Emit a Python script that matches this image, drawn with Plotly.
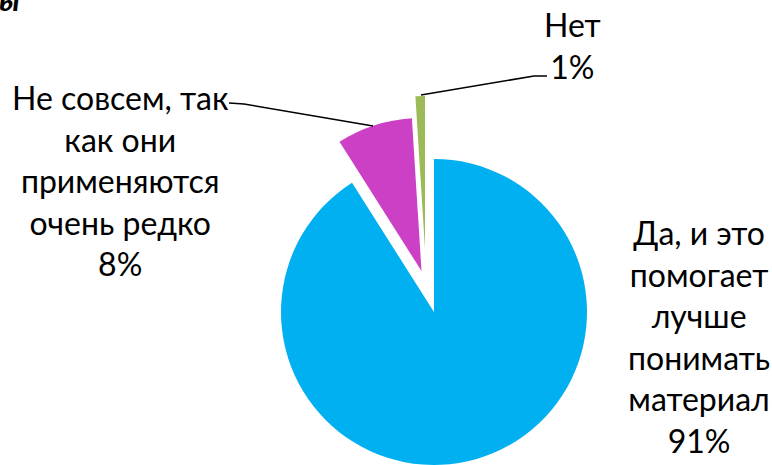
import plotly.graph_objects as go

# ---- data ----
categories = ["Да, и это помогает лучше понимать материал",
              "Не совсем, так как они применяются очень редко",
              "Нет"]
label_lines = ["Да, и это<br>помогает<br>лучше<br>понимать<br>материал",
               "Не совсем, так<br>как они<br>применяются<br>очень редко",
               "Нет"]
values = [91, 8, 1]
colors = ["#00B0F0", "#CC40C6", "#9BBB59"]

W, H = 772, 465

def px(x):
    return x / W

def py(y):
    return 1 - y / H

# pie geometry (pixels): radius and apex for each (exploded) slice
R = 153
apex = [(434, 312), (421.5, 271), (425, 249)]

fig = go.Figure()
for i, (cx, cy) in enumerate(apex):
    cols = ["rgba(0,0,0,0)"] * len(values)
    cols[i] = colors[i]
    fig.add_trace(go.Pie(
        labels=categories, values=values, sort=False, direction="clockwise",
        rotation=0, textinfo="none", hoverinfo="label+percent",
        marker=dict(colors=cols, line=dict(width=0)),
        domain=dict(x=[px(cx - R), px(cx + R)], y=[py(cy + R), py(cy - R)]),
        showlegend=False,
    ))

font = dict(family="Lato, Carlito, Calibri, sans-serif", size=32, color="#000000")

pct = [f"{v}%" for v in values]
label_pos = [(699, 336), (120, 180), (572, 46)]
annotations = []
for (lx, ly), txt, p in zip(label_pos, label_lines, pct):
    annotations.append(dict(
        x=px(lx), y=py(ly), xref="paper", yref="paper", showarrow=False,
        text=f"{txt}<br>{p}", align="center", xanchor="center", yanchor="middle",
        font=font,
    ))
# cut-off title fragment at top-left
annotations.append(dict(
    x=px(-3), y=py(12), xref="paper", yref="paper", showarrow=False,
    text="<b><i>ы</i></b>", xanchor="left", yanchor="bottom",
    font=dict(family="Lato, sans-serif", size=31, color="#000000"), yshift=-8,
))

def path(points):
    return "M " + " L ".join(f"{px(x)},{py(y)}" for x, y in points)

shapes = [
    dict(type="path", xref="paper", yref="paper",
         path=path([(229, 103), (244, 104), (373, 126)]),
         line=dict(color="#000000", width=1.5)),
    dict(type="path", xref="paper", yref="paper",
         path=path([(421, 95), (534, 76), (547, 76)]),
         line=dict(color="#000000", width=1.5)),
]

fig.update_layout(
    width=W, height=H, margin=dict(l=0, r=0, t=0, b=0),
    paper_bgcolor="white", plot_bgcolor="white",
    annotations=annotations, shapes=shapes,
)

fig.write_html(
    "out.html",
    config={"displayModeBar": False},
    post_script="document.body.style.margin='0';document.body.style.overflow='hidden';",
)
